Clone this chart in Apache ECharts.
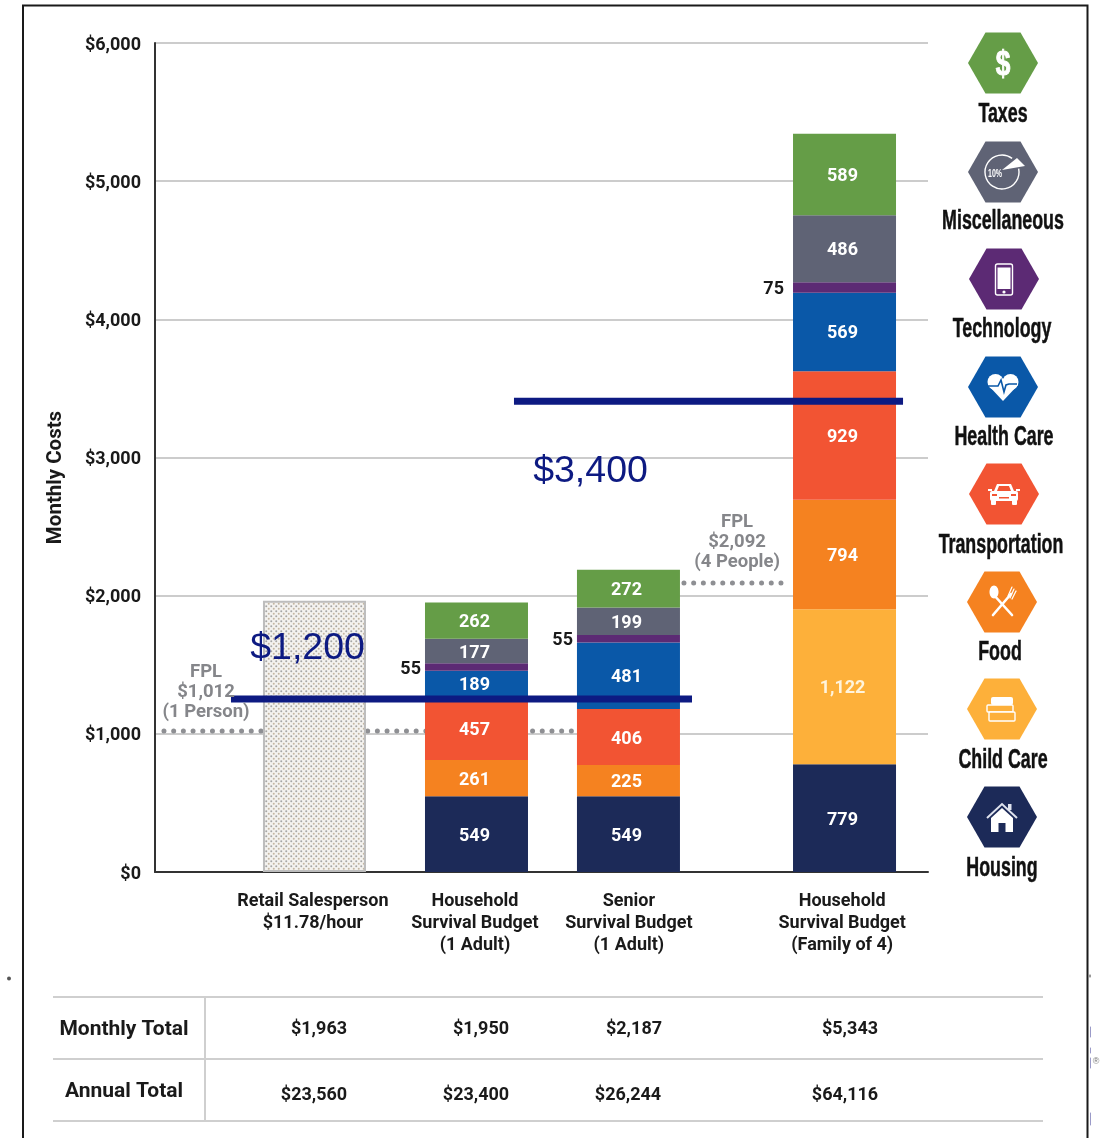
<!DOCTYPE html>
<html>
<head>
<meta charset="utf-8">
<style>html,body{margin:0;padding:0;background:#fff}#c{width:1100px;height:1138px}</style>
<script src="https://cdn.jsdelivr.net/npm/echarts@6/dist/echarts.min.js"></script>
</head>
<body>
<div id="c"></div>
<script>
// ---- data ----
var groupLabels = ['Retail Salesperson\n$11.78/hour', 'Household\nSurvival Budget\n(1 Adult)', 'Senior\nSurvival Budget\n(1 Adult)', 'Household\nSurvival Budget\n(Family of 4)'];
var groupSlots = [20.63, 41.59, 61.25, 89.2];
var labelSlots = [20.43, 41.39, 61.3, 88.9];
var retail    = [1963, null, null, null];
var housing   = [null, 549, 549, 779];
var childCare = [null, null, null, 1122];
var food      = [null, 261, 225, 794];
var transport = [null, 457, 406, 929];
var health    = [null, 189, 481, 569];
var tech      = [null, 55, 55, 75];
var misc      = [null, 177, 199, 486];
var taxes     = [null, 262, 272, 589];
var yTicks = [0, 6000, 1000];
var legendNames = ['Taxes', 'Miscellaneous', 'Technology', 'Health Care', 'Transportation', 'Food', 'Child Care', 'Housing'];
var rowNames = ['Monthly Total', 'Annual Total'];
var monthlyTotals = ['$1,963', '$1,950', '$2,187', '$5,343'];
var annualTotals = ['$23,560', '$23,400', '$26,244', '$64,116'];
var fplLine1 = [[1.16, 1020], [54.3, 1020]];
var fplLine2 = [[68.43, 2091], [81.5, 2091]];
var target1 = [[9.83, 1252], [69.47, 1252]];
var target2 = [[46.44, 3408], [96.77, 3408]];

// ---- styling ----
var C = {taxes:'#659d47', misc:'#5f6375', tech:'#5c2a74', health:'#0a58a8', transport:'#f25433', food:'#f58220', child:'#fdb03a', housing:'#1c2a58'};
var hexColors = [C.taxes, C.misc, C.tech, C.health, C.transport, C.food, C.child, C.housing];
var FONT = 'Roboto, "Liberation Sans", sans-serif';
var INK = '#1a1a1a';
var NAVY = '#0d1a82';
var GRAYTXT = '#85868a';

function retailPattern() {
  var c = document.createElement('canvas'); c.width = 5; c.height = 5;
  var g = c.getContext('2d');
  g.fillStyle = '#f4f2ef'; g.fillRect(0, 0, 5, 5);
  g.fillStyle = '#a6a6a6';
  g.beginPath(); g.arc(1.25, 1.25, 1.0, 0, 7); g.fill();
  g.fillStyle = '#c4b6a2';
  g.beginPath(); g.arc(3.75, 3.75, 1.0, 0, 7); g.fill();
  return {image: c, repeat: 'repeat'};
}

// value first so that the stack runs along the y dimension
function pts(vals) { return vals.map(function (v, i) { return [v, groupSlots[i]]; }); }
function fmt(v) { return String(v).replace(/\B(?=(\d{3})+$)/g, ','); }

function seg(name, vals, color, labelOpt) {
  return {
    type: 'bar', name: name, stack: 'cost', barWidth: 103, z: 3,
    encode: {x: 1, y: 0},
    data: pts(vals), itemStyle: {color: color},
    label: Object.assign({
      show: true, position: 'inside', offset: [-2, 2], color: '#fff', fontFamily: FONT, fontWeight: 700, fontSize: 18,
      formatter: function (p) { return fmt(p.value[0]); }
    }, labelOpt || {})
  };
}
function rule(data, opts) {
  return Object.assign({type: 'line', data: data, showSymbol: false, symbol: 'none', silent: true, clip: false}, opts);
}
function note(point, text, labelOpt) {
  return {
    type: 'scatter', data: [point], symbolSize: 0, silent: true, z: 8, itemStyle: {opacity: 1},
    label: Object.assign({show: true, position: 'inside', formatter: text}, labelOpt)
  };
}

// ---- legend icons, drawn around each hexagon's centre ----
function ln(x1, y1, x2, y2, col, w, cap) { return {type: 'line', shape: {x1: x1, y1: y1, x2: x2, y2: y2}, style: {stroke: col, lineWidth: w, lineCap: cap || 'round'}}; }
function poly(p, fill) { return {type: 'polygon', shape: {points: p}, style: {fill: fill}}; }
function circ(x, y, r, fill) { return {type: 'circle', shape: {cx: x, cy: y, r: r}, style: {fill: fill}}; }
function rct(x, y, w, h, st, r) { return {type: 'rect', shape: {x: x, y: y, width: w, height: h, r: r || 0}, style: st}; }

var W = '#fff';
var icons = [
  [{type: 'text', x: 0, y: 2, scaleX: .75, style: {text: '$', fill: W, stroke: W, lineWidth: 1, align: 'center', verticalAlign: 'middle', font: 'bold 35px "Liberation Sans"'}}],
  [{type: 'arc', shape: {cx: -1, cy: 0, r: 17, startAngle: -0.2, endAngle: 5.35}, style: {stroke: W, lineWidth: 1.4, fill: 'none'}},
   poly([[-1, -2], [22, -6], [14, -14]], W),
   {type: 'text', x: -8, y: 2, scaleX: .7, style: {text: '10%', fill: W, align: 'center', verticalAlign: 'middle', font: 'bold 10px "Liberation Sans"'}}],
  [rct(-8.5, -15, 17, 31, {fill: 'none', stroke: W, lineWidth: 1.4}, 2),
   rct(-6.5, -11.5, 13, 21.5, {fill: W}),
   circ(0, 13, 1.6, W)],
  [circ(-7.5, -5, 8, W), circ(7.5, -5, 8, W), poly([[-15, -2], [15, -2], [0, 14]], W),
   {type: 'polyline', shape: {points: [[-15, -1], [-5, -1], [-2, -7], [1, 5], [3, -2], [6, -3], [14, -3]]}, style: {stroke: C.health, lineWidth: 1.6, fill: 'none'}}],
  [poly([[-10, -3], [-7, -10], [7, -10], [10, -3]], W), rct(-14, -3, 28, 10, {fill: W}, 2),
   rct(-13, 6, 5, 5, {fill: W}, 1), rct(8, 6, 5, 5, {fill: W}, 1),
   rct(-16, -5, 4, 2, {fill: W}), rct(12, -5, 4, 2, {fill: W}),
   poly([[-7, -3], [-5, -8], [5, -8], [7, -3]], C.transport),
   rct(-12, 0, 5, 2, {fill: C.transport}), rct(7, 0, 5, 2, {fill: C.transport}), rct(-5, 3, 10, 1.5, {fill: C.transport})],
  [ln(-9, -8, 10, 13, W, 2.6), ln(9, -8, -9, 13, W, 2.6),
   {type: 'ellipse', shape: {cx: -8, cy: -10, rx: 4.5, ry: 6.5}, style: {fill: W}},
   ln(6, -6, 10, -15, W, 1.2), ln(8, -4, 12, -13, W, 1.2), ln(10, -3, 14, -11, W, 1.2)],
  [rct(-11, -12, 22, 8, {fill: W}, 2),
   rct(-15, -4, 26, 7, {fill: C.child, stroke: W, lineWidth: 1.4}, 1),
   rct(-13, 3, 26, 9, {fill: C.child, stroke: W, lineWidth: 1.4}, 1)],
  [{type: 'polyline', shape: {points: [[-15, 1], [0, -13], [15, 1]]}, style: {stroke: '#dfe3ee', lineWidth: 2, fill: 'none'}},
   rct(6, -13, 3.5, 6, {fill: '#dfe3ee'}),
   poly([[-11, 1], [0, -9], [11, 1], [11, 15], [3.5, 15], [3.5, 6], [-3.5, 6], [-3.5, 15], [-11, 15]], W)]
];
var hexCentres = [[1003, 63], [1003, 172], [1004, 279], [1003, 387], [1004, 494], [1002, 602], [1002, 709], [1002, 817]];
var nameCentres = [[1003, 115], [1003, 222], [1002, 330], [1004, 438], [1001, 546], [1000, 653], [1003, 761], [1002, 869]];

var graphics = [];
// frame and stray marks of the scan
graphics.push({type: 'polyline', shape: {points: [[23, 1138], [23, 5.5], [1087.5, 5.5], [1087.5, 1138]]}, style: {stroke: '#1a1a1a', lineWidth: 2, fill: 'none'}});
graphics.push(circ(9, 978.5, 2, '#555'));
graphics.push(ln(1090, 975, 1090, 977, '#333', 1));
[[1027, 1037], [1048, 1053], [1058, 1068], [1113, 1125]].forEach(function (s) { graphics.push(ln(1090.5, s[0], 1090.5, s[1], '#9a9ac8', 1)); });
graphics.push({type: 'text', x: 1096, y: 1062, style: {text: '®', fill: '#777', align: 'center', verticalAlign: 'middle', font: '9px "Liberation Sans"'}});

legendNames.forEach(function (n, i) {
  var c = hexCentres[i];
  graphics.push({type: 'group', x: c[0], y: c[1], children: [
    poly([[-35, 0], [-17.5, -30.5], [17.5, -30.5], [35, 0], [17.5, 30.5], [-17.5, 30.5]], hexColors[i])
  ].concat(icons[i])});
  graphics.push({type: 'text', x: nameCentres[i][0], y: nameCentres[i][1], scaleX: 0.66,
    style: {text: n, fill: '#111', stroke: '#111', lineWidth: 0.5, align: 'center', verticalAlign: 'middle', font: 'bold 27px "Liberation Sans"'}});
});

// totals table
[997, 1059, 1121].forEach(function (y) { graphics.push(ln(53, y, 1043, y, '#cfcfcf', 2, 'butt')); });
graphics.push(ln(205, 997, 205, 1121, '#cfcfcf', 2, 'butt'));
function cell(x, y, t, size) {
  graphics.push({type: 'text', x: x, y: y, style: {text: t, fill: INK, align: 'center', verticalAlign: 'middle', font: '700 ' + size + 'px ' + FONT}});
}
cell(124, 1030, rowNames[0], 21);
cell(124, 1092, rowNames[1], 21);
[319, 481, 634, 850].forEach(function (x, i) { cell(x, 1029, monthlyTotals[i], 18); });
[314, 476, 628, 845].forEach(function (x, i) { cell(x, 1095, annualTotals[i], 18); });

var techSeries = seg('Technology', tech, C.tech, {position: 'left', distance: 4, offset: [0, 2], color: INK});
techSeries.data[3] = {value: techSeries.data[3], label: {distance: 9}};

var chart = echarts.init(document.getElementById('c'), null, {renderer: 'canvas'});
chart.setOption({
  animation: false,
  backgroundColor: '#fff',
  grid: {left: 155, right: 172, top: 43, bottom: 266, containLabel: false},
  xAxis: {
    type: 'value', min: 0, max: 100, splitLine: {show: false},
    axisLine: {show: true, onZero: false, lineStyle: {color: '#333', width: 2}},
    axisTick: {show: false},
    axisLabel: {
      customValues: labelSlots, margin: 18, color: INK, fontFamily: FONT, fontWeight: 700, fontSize: 18, lineHeight: 22,
      verticalAlign: 'top', align: 'center',
      formatter: function (v) { return groupLabels[labelSlots.indexOf(v)] || ''; }
    }
  },
  yAxis: {
    type: 'value', min: yTicks[0], max: yTicks[1], interval: yTicks[2],
    name: 'Monthly Costs', nameLocation: 'middle', nameGap: 89,
    nameTextStyle: {color: INK, fontFamily: FONT, fontWeight: 700, fontSize: 20.5, padding: [0, 40, 0, 0]},
    axisLine: {show: true, lineStyle: {color: '#333', width: 2}},
    axisTick: {show: false},
    splitLine: {lineStyle: {color: '#cccccc', width: 2}},
    axisLabel: {
      margin: 14, color: INK, fontFamily: FONT, fontWeight: 700, fontSize: 18,
      formatter: function (v) { return '{t|$' + fmt(v) + '}'; },
      rich: {t: {fontFamily: FONT, fontWeight: 700, fontSize: 18, color: INK, padding: [4, 0, 0, 0]}}
    }
  },
  graphic: {elements: graphics},
  series: [
    rule(fplLine1, {z: 2, lineStyle: {type: [0, 9.7], cap: 'round', color: '#8e8f93', width: 5}}),
    rule(fplLine2, {z: 2, lineStyle: {type: [0, 9.7], cap: 'round', color: '#8e8f93', width: 5}}),
    {type: 'bar', name: 'Retail Salesperson', stack: 'cost', barWidth: 103, z: 3, encode: {x: 1, y: 0}, data: pts(retail),
     itemStyle: {color: retailPattern(), borderColor: '#bdbdbd', borderWidth: 2}},
    seg('Housing', housing, C.housing),
    seg('Child Care', childCare, C.child, {color: '#fff4dd'}),
    seg('Food', food, C.food),
    seg('Transportation', transport, C.transport),
    seg('Health Care', health, C.health),
    techSeries,
    seg('Miscellaneous', misc, C.misc),
    seg('Taxes', taxes, C.taxes),
    rule(target1, {z: 6, lineStyle: {color: NAVY, width: 7, cap: 'butt'}}),
    rule(target2, {z: 6, lineStyle: {color: NAVY, width: 7, cap: 'butt'}}),
    note([19.73, 1620], '$1,200', {color: NAVY, fontFamily: '"Liberation Sans"', fontSize: 37.5}),
    note([56.34, 2900], '$3,400', {color: NAVY, fontFamily: '"Liberation Sans"', fontSize: 37.5}),
    note([6.6, 1302], 'FPL\n$1,012\n(1 Person)', {color: GRAYTXT, fontFamily: FONT, fontWeight: 700, fontSize: 18.5, lineHeight: 20}),
    note([75.3, 2387], 'FPL\n$2,092\n(4 People)', {color: GRAYTXT, fontFamily: FONT, fontWeight: 700, fontSize: 18.5, lineHeight: 20})
  ]
});
</script>
</body>
</html>
